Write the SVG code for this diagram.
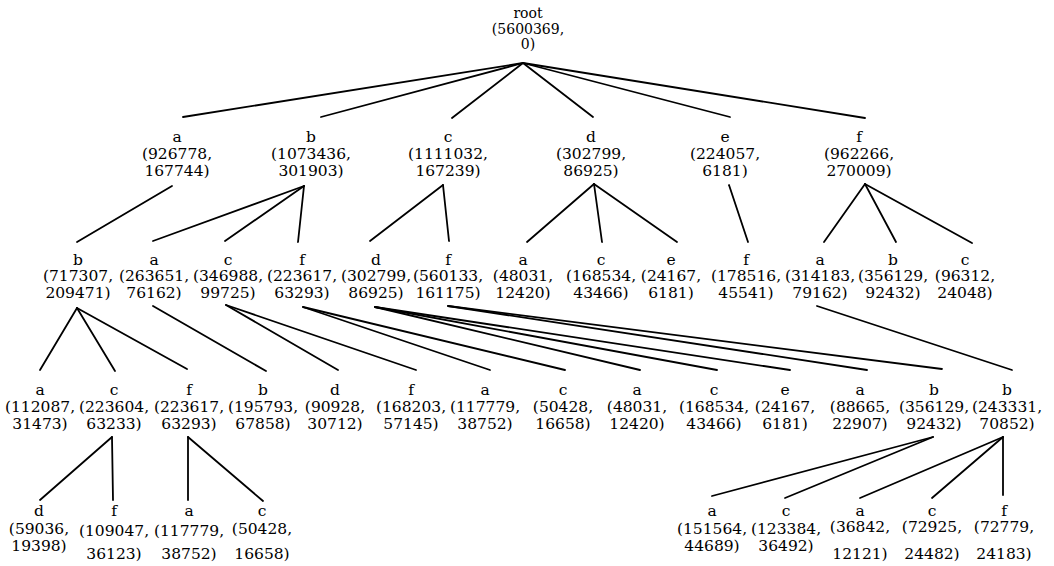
<svg xmlns="http://www.w3.org/2000/svg" width="1054" height="566" viewBox="0 0 1054 566">
<style>
text{font-family:"DejaVu Serif","Liberation Serif",serif;font-size:15.5px;text-anchor:middle;fill:#000}
.rt{font-size:14px}
#edges line{stroke:#000;stroke-width:1.8;stroke-linecap:round}
</style>
<rect width="1054" height="566" fill="#fff"/>
<g id="edges">
<line x1="523" y1="63" x2="183" y2="117"/>
<line x1="523" y1="63" x2="321" y2="117"/>
<line x1="523" y1="63" x2="452" y2="118"/>
<line x1="523" y1="63" x2="593" y2="117"/>
<line x1="523" y1="63" x2="730" y2="117"/>
<line x1="523" y1="63" x2="865" y2="118"/>
<line x1="172" y1="186" x2="77" y2="242"/>
<line x1="304" y1="186" x2="153" y2="241"/>
<line x1="304" y1="186" x2="225" y2="241"/>
<line x1="304" y1="186" x2="298" y2="242"/>
<line x1="443" y1="185" x2="370" y2="241"/>
<line x1="443" y1="185" x2="449" y2="241"/>
<line x1="594" y1="184" x2="527" y2="242"/>
<line x1="594" y1="184" x2="602" y2="242"/>
<line x1="594" y1="184" x2="677" y2="242"/>
<line x1="729" y1="185" x2="748" y2="242"/>
<line x1="865" y1="184" x2="824" y2="242"/>
<line x1="865" y1="184" x2="896" y2="242"/>
<line x1="865" y1="184" x2="972" y2="243"/>
<line x1="77" y1="308" x2="40" y2="370"/>
<line x1="77" y1="308" x2="115" y2="371"/>
<line x1="77" y1="308" x2="187" y2="369"/>
<line x1="153" y1="306" x2="266" y2="371"/>
<line x1="226" y1="305" x2="338" y2="370"/>
<line x1="226" y1="305" x2="416" y2="370"/>
<line x1="303" y1="307" x2="490" y2="370"/>
<line x1="303" y1="307" x2="565" y2="370"/>
<line x1="375" y1="307" x2="640" y2="370"/>
<line x1="375" y1="307" x2="717" y2="370"/>
<line x1="375" y1="307" x2="790" y2="370"/>
<line x1="448" y1="306" x2="867" y2="370"/>
<line x1="448" y1="306" x2="942" y2="369"/>
<line x1="817" y1="306" x2="1012" y2="370"/>
<line x1="112" y1="437" x2="40" y2="500"/>
<line x1="112" y1="437" x2="113" y2="500"/>
<line x1="188" y1="437" x2="188" y2="500"/>
<line x1="188" y1="437" x2="263" y2="501"/>
<line x1="933" y1="437" x2="712" y2="496"/>
<line x1="933" y1="437" x2="785" y2="498"/>
<line x1="1003" y1="437" x2="860" y2="498"/>
<line x1="1003" y1="437" x2="932" y2="498"/>
<line x1="1003" y1="437" x2="1003" y2="495"/>
</g>
<g id="root" class="rt"><text class="rt" x="528" y="18">root</text><text class="rt" x="528" y="34">(5600369,</text><text class="rt" x="528" y="49">0)</text></g>
<g id="n1_a"><text x="177" y="142">a</text><text x="177" y="159">(926778,</text><text x="177" y="176">167744)</text></g>
<g id="n1_b"><text x="311" y="142">b</text><text x="311" y="159">(1073436,</text><text x="311" y="176">301903)</text></g>
<g id="n1_c"><text x="448" y="142">c</text><text x="448" y="159">(1111032,</text><text x="448" y="176">167239)</text></g>
<g id="n1_d"><text x="591" y="142">d</text><text x="591" y="159">(302799,</text><text x="591" y="176">86925)</text></g>
<g id="n1_e"><text x="725" y="142">e</text><text x="725" y="159">(224057,</text><text x="725" y="176">6181)</text></g>
<g id="n1_f"><text x="859" y="142">f</text><text x="859" y="159">(962266,</text><text x="859" y="176">270009)</text></g>
<g id="n2_ab"><text x="78" y="265">b</text><text x="78" y="281">(717307,</text><text x="78" y="298">209471)</text></g>
<g id="n2_ba"><text x="154" y="265">a</text><text x="154" y="281">(263651,</text><text x="154" y="298">76162)</text></g>
<g id="n2_bc"><text x="228" y="265">c</text><text x="228" y="281">(346988,</text><text x="228" y="298">99725)</text></g>
<g id="n2_bf"><text x="302" y="265">f</text><text x="302" y="281">(223617,</text><text x="302" y="298">63293)</text></g>
<g id="n2_cd"><text x="376" y="265">d</text><text x="376" y="281">(302799,</text><text x="376" y="298">86925)</text></g>
<g id="n2_cf"><text x="448" y="265">f</text><text x="448" y="281">(560133,</text><text x="448" y="298">161175)</text></g>
<g id="n2_da"><text x="523" y="265">a</text><text x="523" y="281">(48031,</text><text x="523" y="298">12420)</text></g>
<g id="n2_dc"><text x="601" y="265">c</text><text x="601" y="281">(168534,</text><text x="601" y="298">43466)</text></g>
<g id="n2_de"><text x="671" y="265">e</text><text x="671" y="281">(24167,</text><text x="671" y="298">6181)</text></g>
<g id="n2_ef"><text x="746" y="265">f</text><text x="746" y="281">(178516,</text><text x="746" y="298">45541)</text></g>
<g id="n2_fa"><text x="820" y="265">a</text><text x="820" y="281">(314183,</text><text x="820" y="298">79162)</text></g>
<g id="n2_fb"><text x="893" y="265">b</text><text x="893" y="281">(356129,</text><text x="893" y="298">92432)</text></g>
<g id="n2_fc"><text x="965" y="265">c</text><text x="965" y="281">(96312,</text><text x="965" y="298">24048)</text></g>
<g id="n3_1"><text x="40" y="395">a</text><text x="40" y="412">(112087,</text><text x="40" y="429">31473)</text></g>
<g id="n3_2"><text x="114" y="395">c</text><text x="114" y="412">(223604,</text><text x="114" y="429">63233)</text></g>
<g id="n3_3"><text x="189" y="395">f</text><text x="189" y="412">(223617,</text><text x="189" y="429">63293)</text></g>
<g id="n3_4"><text x="263" y="395">b</text><text x="263" y="412">(195793,</text><text x="263" y="429">67858)</text></g>
<g id="n3_5"><text x="335" y="395">d</text><text x="335" y="412">(90928,</text><text x="335" y="429">30712)</text></g>
<g id="n3_6"><text x="411" y="395">f</text><text x="411" y="412">(168203,</text><text x="411" y="429">57145)</text></g>
<g id="n3_7"><text x="485" y="395">a</text><text x="485" y="412">(117779,</text><text x="485" y="429">38752)</text></g>
<g id="n3_8"><text x="563" y="395">c</text><text x="563" y="412">(50428,</text><text x="563" y="429">16658)</text></g>
<g id="n3_9"><text x="637" y="395">a</text><text x="637" y="412">(48031,</text><text x="637" y="429">12420)</text></g>
<g id="n3_10"><text x="714" y="395">c</text><text x="714" y="412">(168534,</text><text x="714" y="429">43466)</text></g>
<g id="n3_11"><text x="785" y="395">e</text><text x="785" y="412">(24167,</text><text x="785" y="429">6181)</text></g>
<g id="n3_12"><text x="860" y="395">a</text><text x="860" y="412">(88665,</text><text x="860" y="429">22907)</text></g>
<g id="n3_13"><text x="934" y="395">b</text><text x="934" y="412">(356129,</text><text x="934" y="429">92432)</text></g>
<g id="n3_14"><text x="1007" y="395">b</text><text x="1007" y="412">(243331,</text><text x="1007" y="429">70852)</text></g>
<g id="n4_1"><text x="39" y="516">d</text><text x="39" y="534">(59036,</text><text x="39" y="551">19398)</text></g>
<g id="n4_2"><text x="114" y="516">f</text><text x="114" y="536">(109047,</text><text x="114" y="559">36123)</text></g>
<g id="n4_3"><text x="189" y="516">a</text><text x="189" y="536">(117779,</text><text x="189" y="559">38752)</text></g>
<g id="n4_4"><text x="262" y="516">c</text><text x="262" y="534">(50428,</text><text x="262" y="559">16658)</text></g>
<g id="n4_5"><text x="712" y="516">a</text><text x="712" y="534">(151564,</text><text x="712" y="551">44689)</text></g>
<g id="n4_6"><text x="786" y="516">c</text><text x="786" y="534">(123384,</text><text x="786" y="551">36492)</text></g>
<g id="n4_7"><text x="860" y="516">a</text><text x="860" y="532">(36842,</text><text x="860" y="559">12121)</text></g>
<g id="n4_8"><text x="932" y="516">c</text><text x="932" y="532">(72925,</text><text x="932" y="559">24482)</text></g>
<g id="n4_9"><text x="1004" y="516">f</text><text x="1004" y="532">(72779,</text><text x="1004" y="559">24183)</text></g>
</svg>
